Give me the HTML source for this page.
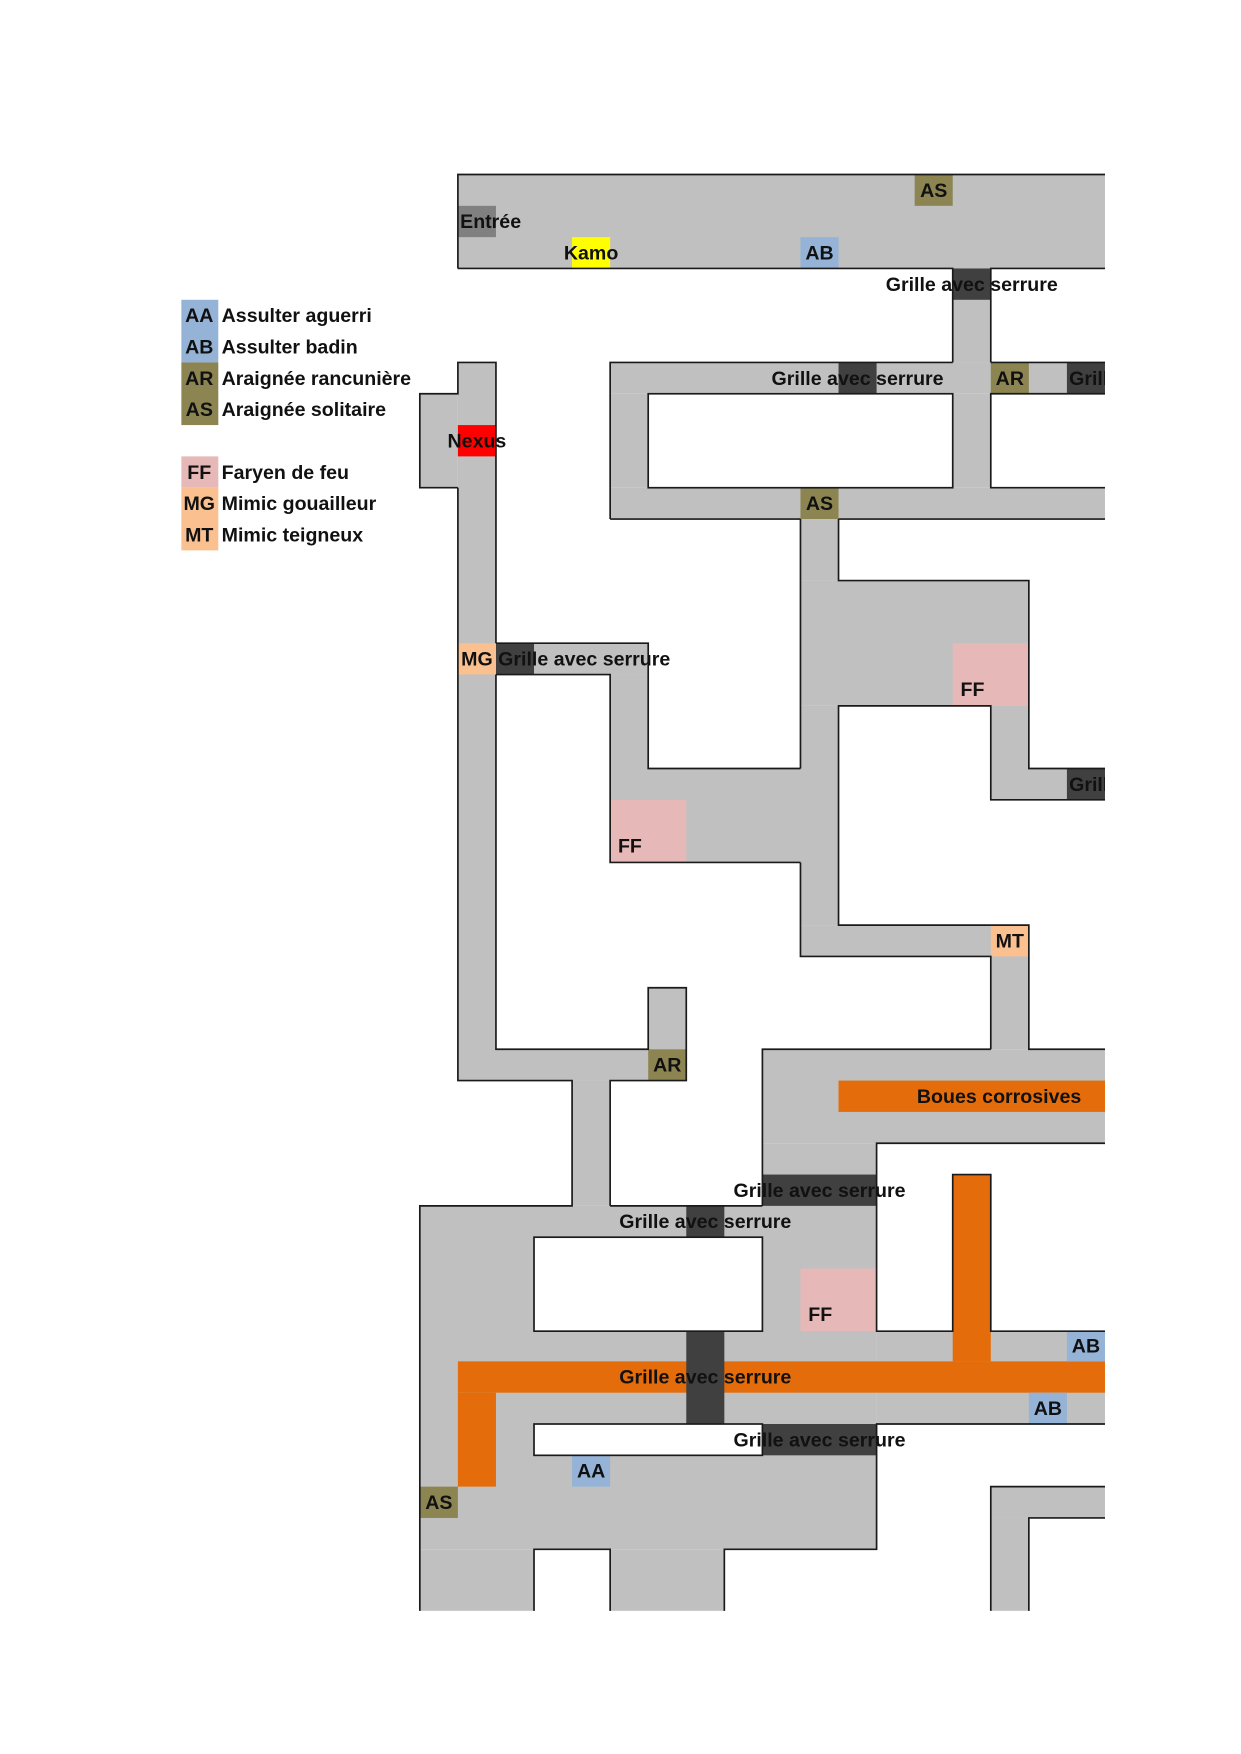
<!DOCTYPE html>
<html><head><meta charset="utf-8"><style>html,body{margin:0;padding:0;background:#fff}svg{display:block}text{font-family:"Liberation Sans",sans-serif;font-weight:bold;font-size:17.5px;fill:#111}</style></head><body>
<svg width="1241" height="1754" viewBox="0 0 1108.5 1568" preserveAspectRatio="none" xmlns="http://www.w3.org/2000/svg">
<defs><clipPath id="c"><rect x="0" y="0" width="987" height="1560"/></clipPath></defs>
<g clip-path="url(#c)">
<g fill="#c0c0c0">
<rect x="409" y="156" width="578" height="84"/>
<rect x="851" y="240" width="34" height="84"/>
<rect x="545" y="324" width="442" height="28"/>
<rect x="545" y="352" width="34" height="84"/>
<rect x="851" y="352" width="34" height="84"/>
<rect x="545" y="436" width="442" height="28"/>
<rect x="715" y="464" width="34" height="55"/>
<rect x="715" y="519" width="204" height="112"/>
<rect x="715" y="631" width="34" height="196"/>
<rect x="885" y="631" width="34" height="56"/>
<rect x="885" y="687" width="102" height="28"/>
<rect x="443" y="575" width="136" height="28"/>
<rect x="545" y="603" width="34" height="84"/>
<rect x="545" y="687" width="204" height="84"/>
<rect x="715" y="827" width="204" height="28"/>
<rect x="885" y="855" width="34" height="83"/>
<rect x="409" y="324" width="34" height="642"/>
<rect x="375" y="352" width="34" height="84"/>
<rect x="409" y="938" width="204" height="28"/>
<rect x="579" y="883" width="34" height="55"/>
<rect x="511" y="966" width="34" height="112"/>
<rect x="681" y="938" width="306" height="84"/>
<rect x="681" y="1022" width="102" height="56"/>
<rect x="375" y="1078" width="408" height="195"/>
<rect x="783" y="1190" width="204" height="83"/>
<rect x="375" y="1273" width="408" height="112"/>
<rect x="375" y="1385" width="102" height="55"/>
<rect x="545" y="1385" width="102" height="55"/>
<rect x="885" y="1329" width="102" height="28"/>
<rect x="885" y="1357" width="34" height="83"/>
</g>
<rect x="477" y="1106" width="204" height="84" fill="#fff"/>
<rect x="477" y="1273" width="204" height="28" fill="#fff"/>
<g fill="#e46c0a">
<rect x="749" y="966" width="238" height="28"/>
<rect x="851" y="1050" width="34" height="167"/>
<rect x="409" y="1217" width="578" height="28"/>
<rect x="409" y="1245" width="34" height="84"/>
</g>
<g fill="#404040">
<rect x="851" y="240" width="34" height="28"/>
<rect x="749" y="324" width="34" height="28"/>
<rect x="953" y="324" width="34" height="28"/>
<rect x="443" y="575" width="34" height="28"/>
<rect x="953" y="687" width="34" height="28"/>
<rect x="681" y="1050" width="102" height="28"/>
<rect x="613" y="1078" width="34" height="28"/>
<rect x="613" y="1190" width="34" height="83"/>
<rect x="681" y="1273" width="102" height="28"/>
</g>
<g fill="#8c8552">
<rect x="817" y="156" width="34" height="28"/>
<rect x="885" y="324" width="34" height="28"/>
<rect x="715" y="436" width="34" height="28"/>
<rect x="579" y="938" width="34" height="28"/>
<rect x="375" y="1329" width="34" height="28"/>
</g>
<g fill="#95b3d7">
<rect x="715" y="212" width="34" height="28"/>
<rect x="953" y="1190" width="34" height="27"/>
<rect x="919" y="1245" width="34" height="28"/>
<rect x="511" y="1301" width="34" height="28"/>
</g>
<g fill="#e6b8b7">
<rect x="851" y="575" width="68" height="56"/>
<rect x="545" y="715" width="68" height="56"/>
<rect x="715" y="1134" width="68" height="56"/>
</g>
<g fill="#fac090">
<rect x="409" y="575" width="34" height="28"/>
<rect x="885" y="827" width="34" height="28"/>
</g>
<rect x="409" y="184" width="34" height="28" fill="#808080"/>
<rect x="511" y="212" width="34" height="28" fill="#ffff00"/>
<rect x="409" y="380" width="34" height="28" fill="#ff0000"/>
<g fill="none" stroke="#1a1a1a" stroke-width="1.5">
<path d="M409,240 V156 H987 M409,240 H851 V324 M885,324 V240 H987"/>
<path d="M545,464 V324 H851 M885,324 H987"/>
<rect x="579" y="352" width="272" height="84"/>
<path d="M987,352 H885 V436 H987"/>
<path d="M545,464 H715 M749,464 H987"/>
<path d="M715,464 V687 M715,771 V855 H885 V938"/>
<path d="M749,464 V519 H919 V687 H987 M987,715 H885 V631 H749 V827 H919 V938 H987"/>
<path d="M443,575 H579 V687 H715 M443,603 H545 V771 H715"/>
<path d="M409,436 H375 V352 H409 V324 H443 V575 M443,603 V938 H579 V883 H613 V966 H545 V1078"/>
<path d="M409,436 V966 H511 V1078 H375 V1440"/>
<path d="M681,1078 V938 H885 M987,1022 H783 V1190 H851 V1050 H885 V1190 H987"/>
<path d="M545,1078 H681"/>
<rect x="477" y="1106" width="204" height="84"/>
<rect x="477" y="1273" width="204" height="28"/>
<path d="M987,1273 H783 V1385 H647 V1440 M545,1440 V1385 H477 V1440"/>
<path d="M885,1440 V1329 H987 M987,1357 H919 V1440"/>
</g>
<g text-anchor="middle">
<text x="834" y="176">AS</text>
<text x="528" y="232">Kamo</text>
<text x="732" y="232">AB</text>
<text x="868" y="260">Grille avec serrure</text>
<text x="766" y="344">Grille avec serrure</text>
<text x="902" y="344">AR</text>
<text x="426" y="400">Nexus</text>
<text x="732" y="456">AS</text>
<text x="426" y="595">MG</text>
<text x="902" y="847">MT</text>
<text x="596" y="958">AR</text>
<text x="732" y="1070">Grille avec serrure</text>
<text x="630" y="1098">Grille avec serrure</text>
<text x="970" y="1209">AB</text>
<text x="630" y="1237">Grille avec serrure</text>
<text x="936" y="1265">AB</text>
<text x="732" y="1293">Grille avec serrure</text>
<text x="528" y="1321">AA</text>
<text x="392" y="1349">AS</text>
</g>
<text x="411" y="204">Entrée</text>
<text x="445" y="595">Grille avec serrure</text>
<text x="955" y="344">Grille</text>
<text x="955" y="707">Grille</text>
<text x="858" y="622">FF</text>
<text x="552" y="762">FF</text>
<text x="722" y="1181">FF</text>
<text x="819" y="986">Boues corrosives</text>
</g>
<rect x="162" y="268" width="33" height="56" fill="#95b3d7"/>
<rect x="162" y="324" width="33" height="56" fill="#8c8552"/>
<rect x="162" y="408" width="33" height="28" fill="#e6b8b7"/>
<rect x="162" y="436" width="33" height="56" fill="#fac090"/>
<g text-anchor="middle">
<text x="178" y="288">AA</text>
<text x="178" y="316">AB</text>
<text x="178" y="344">AR</text>
<text x="178" y="372">AS</text>
<text x="178" y="428">FF</text>
<text x="178" y="456">MG</text>
<text x="178" y="484">MT</text>
</g>
<text x="198" y="288">Assulter aguerri</text>
<text x="198" y="316">Assulter badin</text>
<text x="198" y="344">Araignée rancunière</text>
<text x="198" y="372">Araignée solitaire</text>
<text x="198" y="428">Faryen de feu</text>
<text x="198" y="456">Mimic gouailleur</text>
<text x="198" y="484">Mimic teigneux</text>
</svg>
</body></html>
